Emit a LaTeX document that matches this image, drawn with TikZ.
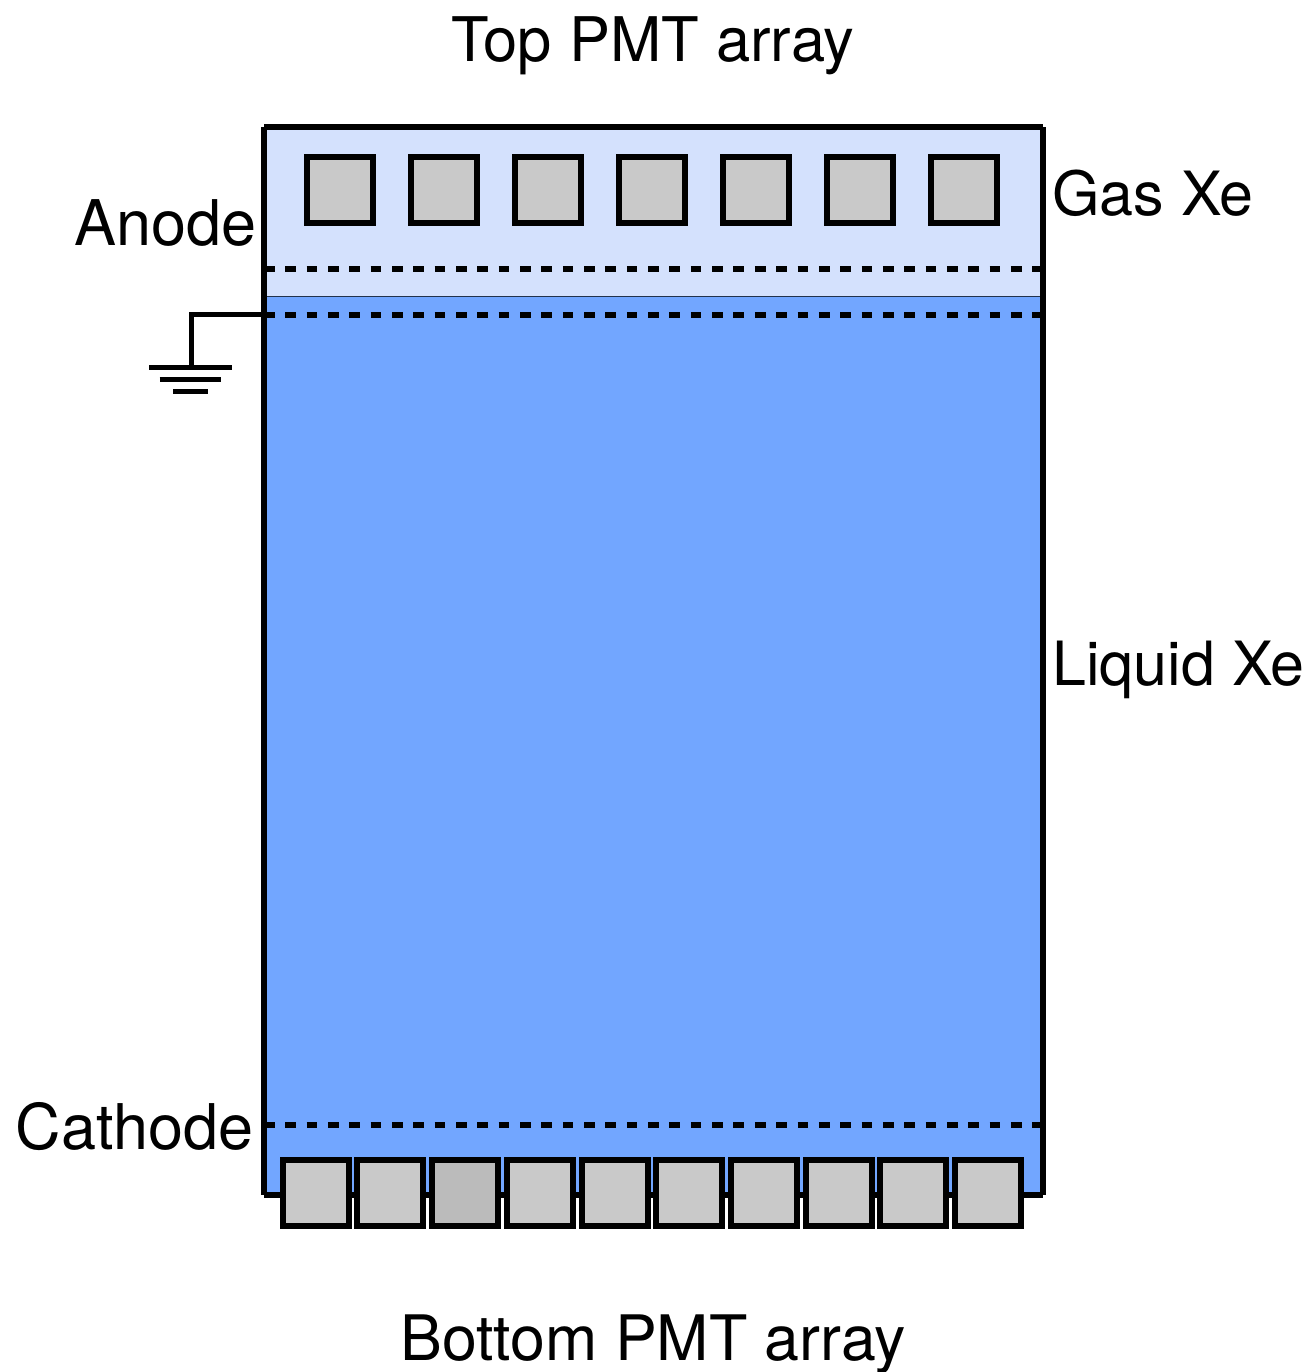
\documentclass[tikz,border=0pt]{standalone}
\usepackage{fontspec}
\setmainfont{TeX Gyre Heros}
\usetikzlibrary{positioning,calc}

\definecolor{gasblue}{HTML}{D4E1FD}
\definecolor{liqblue}{HTML}{72A6FF}
\definecolor{pmtgray}{HTML}{C9C9C9}
\definecolor{pmtdark}{HTML}{BBBBBB}

\begin{document}
\begin{tikzpicture}[
  x=1pt, y=-1pt,
  lab/.style={inner sep=0pt, anchor=base, font=\fontsize{#1}{70}\selectfont},
  pmt/.style={draw, line width=6pt, fill=pmtgray, minimum size=66pt, inner sep=0pt, outer sep=0pt},
  wall/.style={line width=6pt},
  grid/.style={line width=6pt, dash pattern=on 10.67pt off 10.67pt},
  wire/.style={line width=5.5pt}]
\useasboundingbox (0,0) rectangle (1315,1372);
\coordinate (tl) at (264,127.5);
\coordinate (tr) at (1042.5,127.5);
\coordinate (bl) at (264,1194.5);
\coordinate (br) at (1042.5,1194.5);
\coordinate (sl) at (264,296);
\coordinate (sr) at (1042.5,296);
% gas and liquid
\fill[gasblue] (tl) rectangle (sr);
\fill[liqblue] (sl) rectangle (br);
\draw[line width=1pt, black!70!liqblue] (sl) -- (sr);
% grids
\coordinate (anl) at (264,269);
\coordinate (anr) at (1042.5,269);
\coordinate (gtl) at (264,314.5);
\coordinate (gtr) at (1042.5,314.5);
\coordinate (cal) at (264,1125);
\coordinate (car) at (1042.5,1125);
\draw[grid] (anl) -- (anr);
\draw[grid] (gtl) -- (gtr);
\draw[grid] (cal) -- (car);
% vessel
\draw[wall] (bl) -- (tl);
\draw[wall] (tl) -- (tr);
\draw[wall] (tr) -- (br);
\draw[wall] (bl) -- (br);
% ground
\coordinate (gnd) at (191.5,367.5);
\coordinate (gnda) at (149,367.5);
\coordinate (gndb) at (232,367.5);
\coordinate (gndc) at (159.5,379.5);
\coordinate (gndd) at (221,379.5);
\coordinate (gnde) at (173,391.5);
\coordinate (gndf) at (208,391.5);
\draw[wire] (gtl) -| (gnd);
\draw[wire] (gnda) -- (gndb);
\draw[wire] (gndc) -- (gndd);
\draw[wire] (gnde) -- (gndf);
% PMTs
\foreach \i in {0,...,6}
  \node[pmt] (top\i) at ({339.7+104*\i},190.5) {};
\foreach \i in {0,...,9}
  \node[pmt] (bot\i) at ({315.7+74.7*\i},1193.3) {};
\node[pmt, fill=pmtdark] at (bot2) {};
% labels
\node[lab=61.5] (toplab) at (653,62) {Top PMT array};
\node[lab=62.7] (botlab) at (653,1360) {Bottom PMT array};
\node[lab=63, anchor=base east] (anolab) at (257,246) {Anode};
\node[lab=63, anchor=base east] (catlab) at (254,1149) {Cathode};
\node[lab=61, anchor=base west] (gaslab) at (1052,216) {Gas Xe};
\node[lab=61, anchor=base west] (liqlab) at (1052,685) {Liquid Xe};
\end{tikzpicture}
\end{document}
